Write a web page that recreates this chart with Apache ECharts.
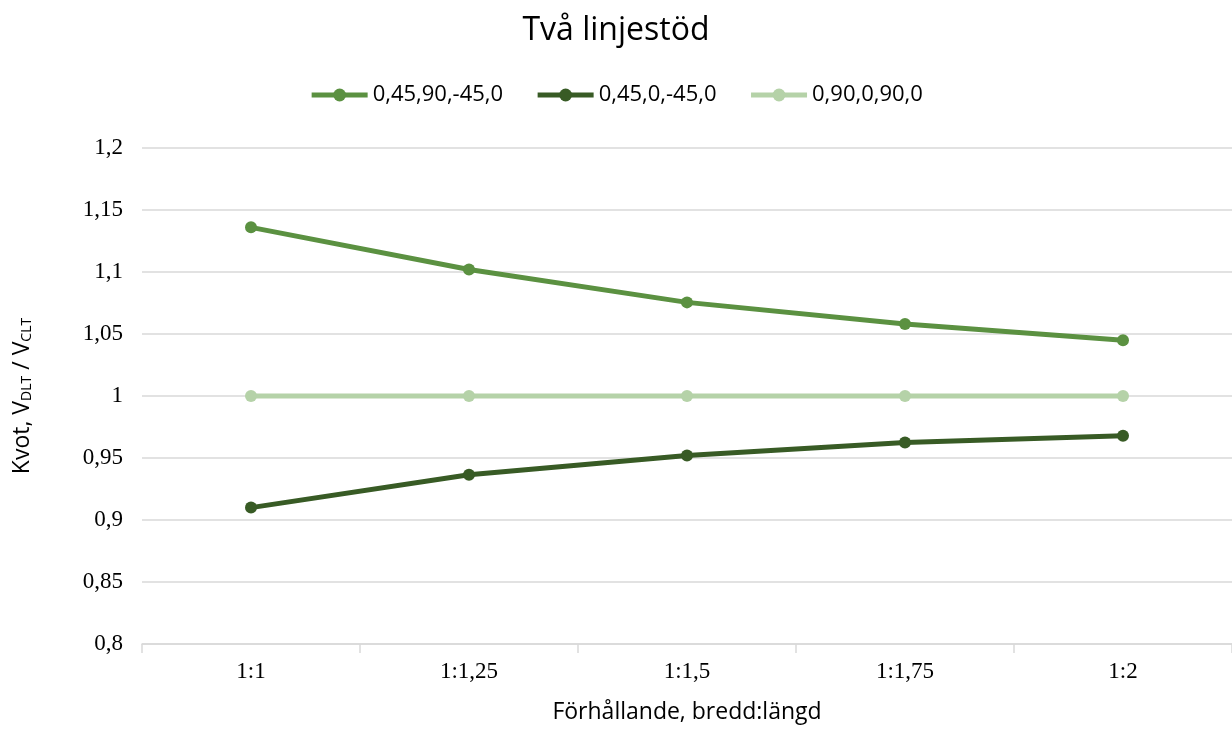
<!DOCTYPE html>
<html>
<head>
<meta charset="utf-8">
<script src="https://cdn.jsdelivr.net/npm/echarts@6/dist/echarts.min.js"></script>
<style>html,body{margin:0;padding:0;background:#fff}#c{width:1232px;height:729px}</style>
</head>
<body>
<div id="c"></div>
<script>
const categories = ['1:1', '1:1,25', '1:1,5', '1:1,75', '1:2'];
const seriesNames = ['0,45,90,-45,0', '0,45,0,-45,0', '0,90,0,90,0'];
const s1 = [1.136, 1.102, 1.0755, 1.058, 1.045];
const s2 = [0.910, 0.9365, 0.952, 0.9625, 0.968];
const s3 = [1.0, 1.0, 1.0, 1.0, 1.0];
const colors = ['#5b9141', '#385b25', '#b5d2a8'];

const chart = echarts.init(document.getElementById('c'));
const mk = (name, data, color) => ({
  name, type: 'line', data, color,
  symbol: 'circle', symbolSize: 12,
  lineStyle: { width: 5, color },
  itemStyle: { color },
  emphasis: { disabled: true }
});
chart.setOption({
  animation: false,
  title: {
    text: 'Två linjestöd', left: 'center', top: 10,
    textStyle: { fontFamily: 'Open Sans', fontSize: 32, fontWeight: 'normal', color: '#000' }
  },
  legend: {
    top: 79, left: 'center', itemWidth: 56, itemHeight: 16, itemGap: 32,
    lineStyle: { width: 5 },
    textStyle: { fontFamily: 'Open Sans', fontSize: 22, color: '#000' },
    data: seriesNames
  },
  grid: { left: 142, right: 0, top: 148, bottom: 83 },
  xAxis: {
    type: 'category', data: categories, boundaryGap: true,
    axisLine: { lineStyle: { color: '#d9d9d9', width: 1.5 } },
    axisTick: { show: true, length: 9, lineStyle: { color: '#d9d9d9', width: 1.5 } },
    axisLabel: { fontFamily: 'Liberation Serif', fontSize: 23, color: '#000', margin: 16 },
    name: 'Förhållande, bredd:längd', nameLocation: 'middle', nameGap: 57,
    nameTextStyle: { fontFamily: 'Open Sans', fontSize: 23, color: '#000' }
  },
  yAxis: {
    type: 'value', min: 0.8, max: 1.2, interval: 0.05,
    axisLine: { show: false }, axisTick: { show: false },
    splitLine: { lineStyle: { color: '#d9d9d9', width: 1.5 } },
    axisLabel: {
      fontFamily: 'Liberation Serif', fontSize: 23, color: '#000', margin: 19,
      formatter: v => String(Math.round(v * 100) / 100).replace('.', ',')
    },
    name: '{m|Kvot, V}{s|DLT}{m| / V}{s|CLT}', nameLocation: 'middle', nameGap: 108, nameRotate: 90,
    nameTextStyle: {
      rich: {
        m: { fontFamily: 'Open Sans', fontSize: 23, color: '#000' },
        s: { fontFamily: 'Open Sans', fontSize: 14, color: '#000', verticalAlign: 'bottom', padding: [10, 0, 0, 0] }
      }
    }
  },
  series: [
    mk(seriesNames[0], s1, colors[0]),
    mk(seriesNames[1], s2, colors[1]),
    mk(seriesNames[2], s3, colors[2])
  ]
});
</script>
</body>
</html>
